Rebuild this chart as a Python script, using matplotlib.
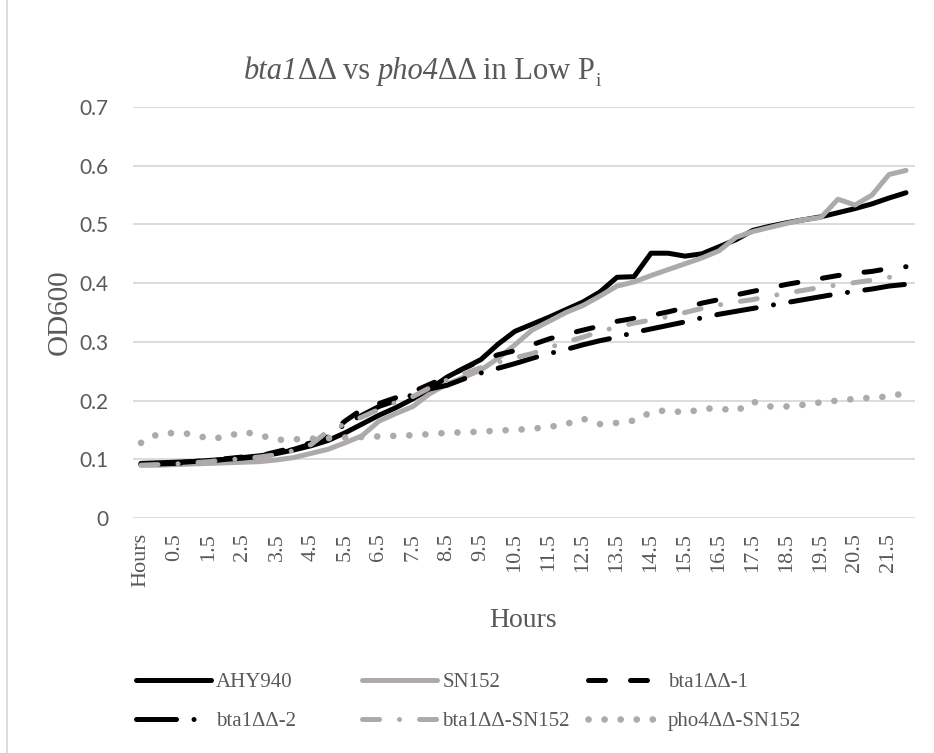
import numpy as np
import matplotlib
matplotlib.use("Agg")
import matplotlib.pyplot as plt
from matplotlib.patches import Rectangle

# categories: header cell + sample times
hours = ["Hours"] + ["%g" % (h / 2) for h in range(0, 45)]

ahy940 = [0.093, 0.094, 0.095, 0.096, 0.098, 0.100, 0.103, 0.106, 0.110, 0.116,
          0.123, 0.132, 0.145, 0.160, 0.175, 0.188, 0.203, 0.220, 0.240, 0.255,
          0.270, 0.296, 0.318, 0.330, 0.342, 0.355, 0.368, 0.385, 0.410, 0.411,
          0.451, 0.451, 0.446, 0.450, 0.462, 0.474, 0.490, 0.497, 0.503, 0.508,
          0.513, 0.520, 0.527, 0.535, 0.545, 0.554]
sn152 = [0.090, 0.090, 0.091, 0.092, 0.093, 0.094, 0.095, 0.096, 0.099, 0.103,
         0.110, 0.117, 0.128, 0.140, 0.165, 0.178, 0.190, 0.212, 0.228, 0.240,
         0.252, 0.272, 0.295, 0.320, 0.335, 0.350, 0.362, 0.378, 0.395, 0.402,
         0.413, 0.423, 0.433, 0.443, 0.455, 0.478, 0.488, 0.495, 0.502, 0.508,
         0.512, 0.543, 0.533, 0.550, 0.585, 0.592]
bta1_1 = [0.092, 0.093, 0.094, 0.096, 0.098, 0.101, 0.104, 0.106, 0.113, 0.120,
          0.128, 0.140, 0.165, 0.185, 0.195, 0.205, 0.215, 0.228, 0.240, 0.255,
          0.268, 0.278, 0.285, 0.295, 0.305, 0.313, 0.320, 0.327, 0.335, 0.340,
          0.345, 0.351, 0.358, 0.366, 0.372, 0.380, 0.386, 0.392, 0.398, 0.403,
          0.408, 0.413, 0.417, 0.420, 0.425, 0.428]
bta1_2 = [0.091, 0.092, 0.093, 0.095, 0.097, 0.100, 0.102, 0.105, 0.110, 0.117,
          0.126, 0.138, 0.160, 0.175, 0.190, 0.200, 0.210, 0.220, 0.226, 0.237,
          0.247, 0.255, 0.263, 0.272, 0.280, 0.287, 0.295, 0.302, 0.308, 0.316,
          0.322, 0.328, 0.334, 0.341, 0.347, 0.352, 0.357, 0.362, 0.367, 0.372,
          0.377, 0.382, 0.386, 0.390, 0.395, 0.398]
bta1_sn152 = [0.090, 0.091, 0.092, 0.094, 0.096, 0.099, 0.101, 0.104, 0.108, 0.115,
              0.125, 0.148, 0.160, 0.172, 0.185, 0.197, 0.207, 0.222, 0.235, 0.246,
              0.256, 0.265, 0.273, 0.280, 0.290, 0.300, 0.308, 0.318, 0.325, 0.332,
              0.337, 0.343, 0.350, 0.357, 0.363, 0.368, 0.372, 0.378, 0.383, 0.388,
              0.393, 0.397, 0.401, 0.405, 0.410, 0.412]
pho4_sn152 = [0.128, 0.143, 0.145, 0.143, 0.135, 0.138, 0.147, 0.141, 0.133, 0.134,
              0.135, 0.136, 0.137, 0.138, 0.139, 0.140, 0.141, 0.143, 0.145, 0.146,
              0.147, 0.149, 0.150, 0.152, 0.155, 0.160, 0.169, 0.160, 0.162, 0.166,
              0.180, 0.184, 0.179, 0.186, 0.187, 0.182, 0.198, 0.190, 0.190, 0.193,
              0.197, 0.200, 0.203, 0.205, 0.207, 0.213]

labels = ["AHY940", "SN152", "bta1ΔΔ-1", "bta1ΔΔ-2", "bta1ΔΔ-SN152", "pho4ΔΔ-SN152"]

BLACK = "#000000"
GRAY = "#AEAAAA"
TXT = "#595959"
SERIF = "Liberation Serif"

styles = [
    dict(color=BLACK, linestyle="-", lw=3.6),
    dict(color=GRAY, linestyle="-", lw=3.6),
    dict(color=BLACK, linestyle=(0, (3.4, 5.0)), lw=3.6),
    dict(color=BLACK, linestyle=(0, (8.0, 3.5, 0.01, 3.5)), lw=3.6),
    dict(color=GRAY, linestyle=(0, (3.4, 4.0, 0.01, 4.0)), lw=3.6),
    dict(color=GRAY, linestyle=(0, (0.01, 2.4)), lw=4.8),
]
series = [ahy940, sn152, bta1_1, bta1_2, bta1_sn152, pho4_sn152]

fig = plt.figure(figsize=(9.34, 7.53), dpi=100)
ax = fig.add_axes([132.5 / 934, 1 - 518 / 753, 782 / 934, 411 / 753])

x = np.arange(len(hours))
handles = []
for y, st, lab in zip(series, styles, labels):
    ln, = ax.plot(x, y, dash_capstyle="round", solid_capstyle="round",
                  solid_joinstyle="round", label=lab, **st)
    handles.append(ln)

ax.set_xlim(-0.5, len(hours) - 0.5)
ax.set_ylim(0, 0.7)
ax.set_yticks(np.arange(0, 0.71, 0.1))
ax.set_yticklabels(["0", "0.1", "0.2", "0.3", "0.4", "0.5", "0.6", "0.7"],
                   fontname="Lato", fontsize=15, color=TXT)
ax.set_xticks(x[::2])
ax.set_xticklabels(hours[::2], rotation=90, fontname=SERIF,
                   fontsize=16, color=TXT)
ax.tick_params(axis="y", length=0, pad=17)
ax.tick_params(axis="x", length=0, pad=11)
ax.grid(axis="y", color="#D9D9D9", lw=1.3)
ax.set_axisbelow(True)
for s in ax.spines.values():
    s.set_visible(False)

ax.set_xlabel("Hours", fontname=SERIF, fontsize=20, color=TXT, labelpad=15)
ax.set_ylabel("OD600", fontname=SERIF, fontsize=21, color=TXT)
ax.yaxis.set_label_coords((73 - 132.5) / 782, 0.5)

# title built from runs so the gene names are fully italic
runs = [("bta1", "italic", 22, 0), ("ΔΔ vs ", "normal", 22, 0),
        ("pho4", "italic", 22, 0), ("ΔΔ in Low P", "normal", 22, 0),
        ("i", "normal", 14, -7)]
renderer = fig.canvas.get_renderer()
pieces = []
xpos = 0.0
for txt, style, size, dy in runs:
    t = fig.text(0, 0, txt, fontname=SERIF, fontstyle=style, fontsize=size,
                 color=TXT, va="baseline", ha="left")
    w = t.get_window_extent(renderer).width
    pieces.append((t, xpos, dy))
    xpos += w
x0 = 422 - xpos / 2
base = 753 - 79
for t, off, dy in pieces:
    t.set_position(((x0 + off) / 934, (base + dy) / 753))

# legend: three equal-width columns, two rows, filled row by row
col_left = [136, 362, 588]
for c, left in enumerate(col_left):
    idx = [c, c + 3]
    leg = fig.legend([handles[i] for i in idx], [labels[i] for i in idx],
                     loc="center left", bbox_to_anchor=(left / 934, 1 - 702 / 753),
                     frameon=False, handlelength=3.6, handletextpad=0.25,
                     labelspacing=0.95, borderpad=0, borderaxespad=0,
                     prop=dict(family=SERIF, size=15))
    for t in leg.get_texts():
        t.set_color(TXT)

fig.patches.append(Rectangle((7 / 934, -0.01), 1.1, 1.1, transform=fig.transFigure,
                             fill=False, edgecolor="#D9D9D9", lw=1.3))

fig.savefig("out.png", dpi=100)
